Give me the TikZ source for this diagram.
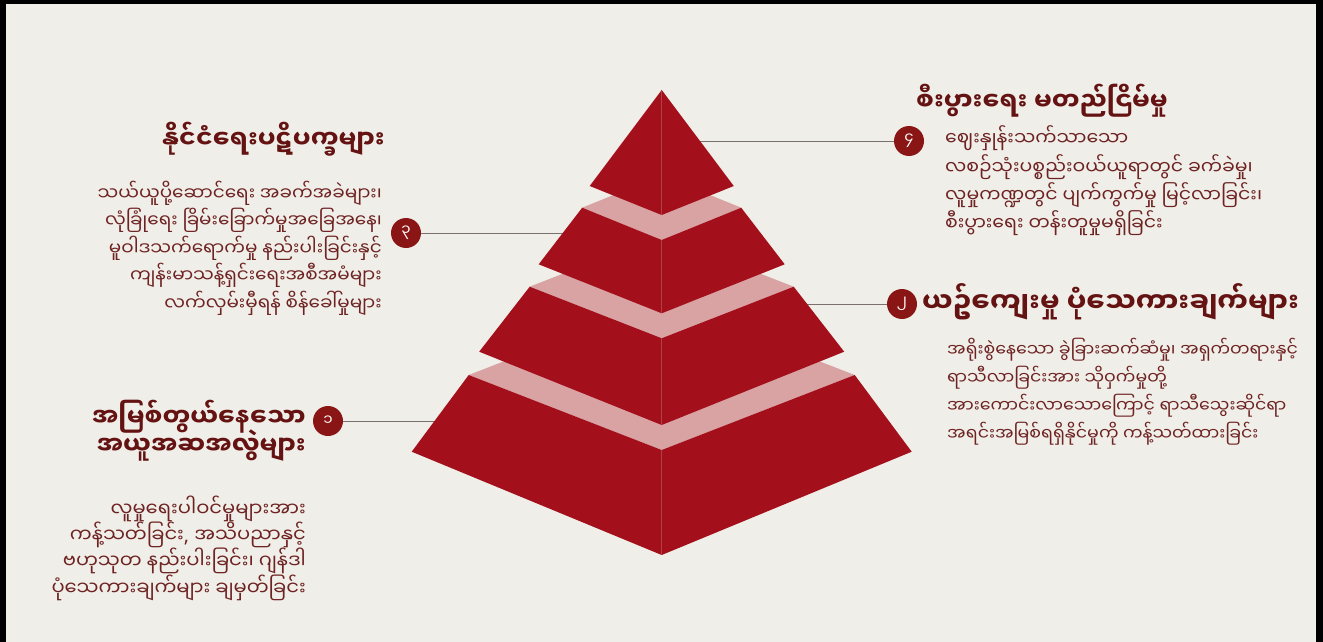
\documentclass[tikz,border=0pt]{standalone}
\usepackage{fontspec}
\newfontfamily\mmfont[Script=Myanmar]{Noto Sans Myanmar UI}
\newfontfamily\latinfont{Noto Sans}
\usetikzlibrary{positioning}
\newcommand\tightlines{\setlength{\lineskiplimit}{-100pt}}

\definecolor{bgcol}{HTML}{EFEEE8}
\definecolor{pyrred}{HTML}{A30F1B}
\definecolor{bandpink}{HTML}{D9A3A3}
\definecolor{numred}{HTML}{8A1515}
\definecolor{titlecol}{HTML}{641212}
\definecolor{bodycol}{HTML}{6E2222}
\definecolor{leadcol}{HTML}{7A7070}

\tikzset{
  face/.style={fill=pyrred, draw=none},
  topface/.style={fill=bandpink, draw=none},
  ridge/.style={draw=pyrred!80!white, line width=0.8pt},
  numdot/.style={circle, fill=numred, text=white, minimum size=30pt, inner sep=0pt,
    font=\mmfont\fontsize{15}{15}\selectfont},
  leader/.style={draw=leadcol, line width=1pt},
  heading/.style={text=titlecol, inner sep=0pt,
    font=\mmfont\bfseries\fontsize{25}{28}\selectfont\tightlines},
  bodytext/.style={text=bodycol, inner sep=0pt,
    font=\mmfont\fontsize{18.4}{27.5}\selectfont\tightlines},
}

\begin{document}
\begin{tikzpicture}[x=1pt, y=-1pt]
    % 1. page, background and frame
    \fill[bgcol] (0,0) rectangle (1323,642);
    \useasboundingbox (0,0) rectangle (1323,642);
    \fill[black] (0,0) rectangle (6,642);
    \fill[black] (0,0) rectangle (1323,4);
    \fill[black] (1316,0) rectangle (1323,642);

    % 2. numbered markers and leader lines (drawn under the pyramid)
    \node[numdot] (n1) at (328,421) {၁};
    \node[numdot] (n2) at (902,304) {၂};
    \node[numdot] (n3) at (406,233) {၃};
    \node[numdot] (n4) at (909,141) {၄};
    \coordinate (e1) at (445,421);
    \coordinate (e2) at (800,304);
    \coordinate (e3) at (570,233);
    \coordinate (e4) at (690,141);
    \draw[leader] (n1) -- (e1);
    \draw[leader] (n2) -- (e2);
    \draw[leader] (n3) -- (e3);
    \draw[leader] (n4) -- (e4);

    % 3. pyramid tiers, bottom first
    % top half width / top y / top front y / bottom half width / bottom y / bottom front y
    \foreach \tw/\ty/\tf/\bw/\by/\bf in {193/375/450/250/451.7/555,
                                         132/286.7/338.3/182.5/351.7/425,
                                         79.5/207.7/240/123/264.3/313.3}{
      \fill[topface] ({661.7-\tw},\ty) -- (661.7,\tf) -- ({661.7+\tw},\ty)
                     -- (661.7,{2*\ty-\tf}) -- cycle;
      \fill[face] ({661.7-\tw},\ty) -- (661.7,\tf) -- (661.7,\bf) -- ({661.7-\bw},\by) -- cycle;
      \fill[face] ({661.7+\tw},\ty) -- (661.7,\tf) -- (661.7,\bf) -- ({661.7+\bw},\by) -- cycle;
      \draw[ridge] (661.7,\tf) -- (661.7,\bf);
    }
    % top piece
    \coordinate (apex) at (661.7,90);
    \fill[face] (apex) -- (589.7,186) -- (661.7,215) -- (733.8,186) -- cycle;
    \draw[ridge] (apex) -- (661.7,215);

    % 4. labels
    \node[heading, anchor=east] (polT) at (385,139) {နိုင်ငံရေးပဋိပက္ခများ};
    \node[bodytext, anchor=east, align=right] (polB) at (382,248)
      {သယ်ယူပို့ဆောင်ရေး အခက်အခဲများ၊\\
       လုံခြုံရေး ခြိမ်းခြောက်မှုအခြေအနေ၊\\
       မူဝါဒသက်ရောက်မှု နည်းပါးခြင်းနှင့်\\
       ကျန်းမာသန့်ရှင်းရေးအစီအမံများ\\
       လက်လှမ်းမှီရန် စိန်ခေါ်မှုများ};

    \node[heading, anchor=east, align=right] (rootT) at (306,431)
      {အမြစ်တွယ်နေသော\\အယူအဆအလွဲများ};
    \node[bodytext, anchor=east, align=right,
          font=\mmfont\fontsize{19.5}{26.3}\selectfont\tightlines] (rootB) at (306,548)
      {လူမှုရေးပါဝင်မှုများအား\\
       ကန့်သတ်ခြင်း{\latinfont,} အသိပညာနှင့်\\
       ဗဟုသုတ နည်းပါးခြင်း၊ ဂျန်ဒါ\\
       ပုံသေကားချက်များ ချမှတ်ခြင်း};

    \node[heading, anchor=west] (ecoT) at (916,101) {စီးပွားရေး မတည်ငြိမ်မှု};
    \node[bodytext, anchor=west, align=left,
          font=\mmfont\fontsize{18.9}{28.3}\selectfont\tightlines] (ecoB) at (945,181)
      {ဈေးနှုန်းသက်သာသော\\
       လစဉ်သုံးပစ္စည်းဝယ်ယူရာတွင် ခက်ခဲမှု၊\\
       လူမှုကဏ္ဍတွင် ပျက်ကွက်မှု မြင့်လာခြင်း၊\\
       စီးပွားရေး တန်းတူမှုမရှိခြင်း};

    \node[heading, anchor=west, font=\mmfont\bfseries\fontsize{27.5}{28}\selectfont] (culT) at (922,302)
      {ယဥ်ကျေးမှု ပုံသေကားချက်များ};
    \node[bodytext, anchor=west, align=left,
          font=\mmfont\fontsize{17.4}{28}\selectfont\tightlines] (culB) at (947,392)
      {အရိုးစွဲနေသော ခွဲခြားဆက်ဆံမှု၊ အရှက်တရားနှင့်\\
       ရာသီလာခြင်းအား သိုဝှက်မှုတို့\\
       အားကောင်းလာသောကြောင့် ရာသီသွေးဆိုင်ရာ\\
       အရင်းအမြစ်ရရှိနိုင်မှုကို ကန့်သတ်ထားခြင်း};
\end{tikzpicture}
\end{document}
